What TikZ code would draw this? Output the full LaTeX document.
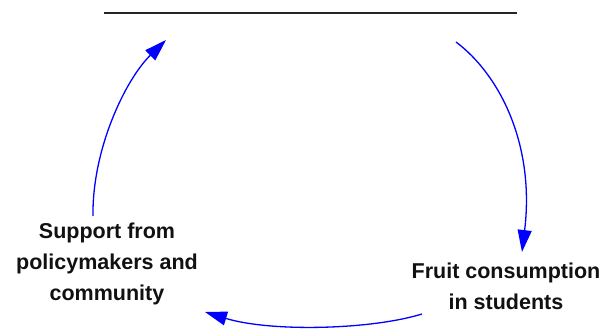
\documentclass[tikz,border=0pt]{standalone}
\usepackage{fontspec}
\setmainfont{Liberation Sans}
\usetikzlibrary{arrows.meta}
\definecolor{cLoop}{HTML}{0000FF}
\definecolor{cInk}{HTML}{111111}
\tikzset{
  factor/.style={font=\fontsize{21.5}{31}\selectfont\bfseries, text=cInk, align=center, inner sep=0pt},
  link/.style={-{Triangle[length=22pt,width=14pt]}, line width=1.3pt, color=cLoop},
  blankline/.style={line width=2pt, color=black!85},
}

\begin{document}
\begin{tikzpicture}[x=1pt,y=-1pt]
  \useasboundingbox (0,0) rectangle (606,331);

  % ---------- factors ----------
  \node[factor] (support) at (107,264) {Support from\\policymakers and\\community};
  \node[factor] (fruit)   at (506,286) {Fruit consumption\\in students};

  % ---------- empty factor (blank line) ----------
  \coordinate (gapL) at (104,13);
  \coordinate (gapR) at (517,13);
  \draw[blankline] (gapL) -- (gapR);

  % ---------- arc ends ----------
  \coordinate (supOut)   at (93,216);
  \coordinate (gapIn)    at (166,40);
  \coordinate (gapOut)   at (456,42);
  \coordinate (fruitIn)  at (522,252);
  \coordinate (fruitOut) at (422,314);
  \coordinate (supIn)    at (205,312);

  % ---------- loop ----------
  \draw[link] (supOut) .. controls (92,150) and (125,80) .. (gapIn);
  \draw[link] (gapOut) .. controls (500,75) and (535,145) .. (fruitIn);
  \draw[link] (fruitOut) .. controls (370,330) and (270,332) .. (supIn);

\end{tikzpicture}
\end{document}
